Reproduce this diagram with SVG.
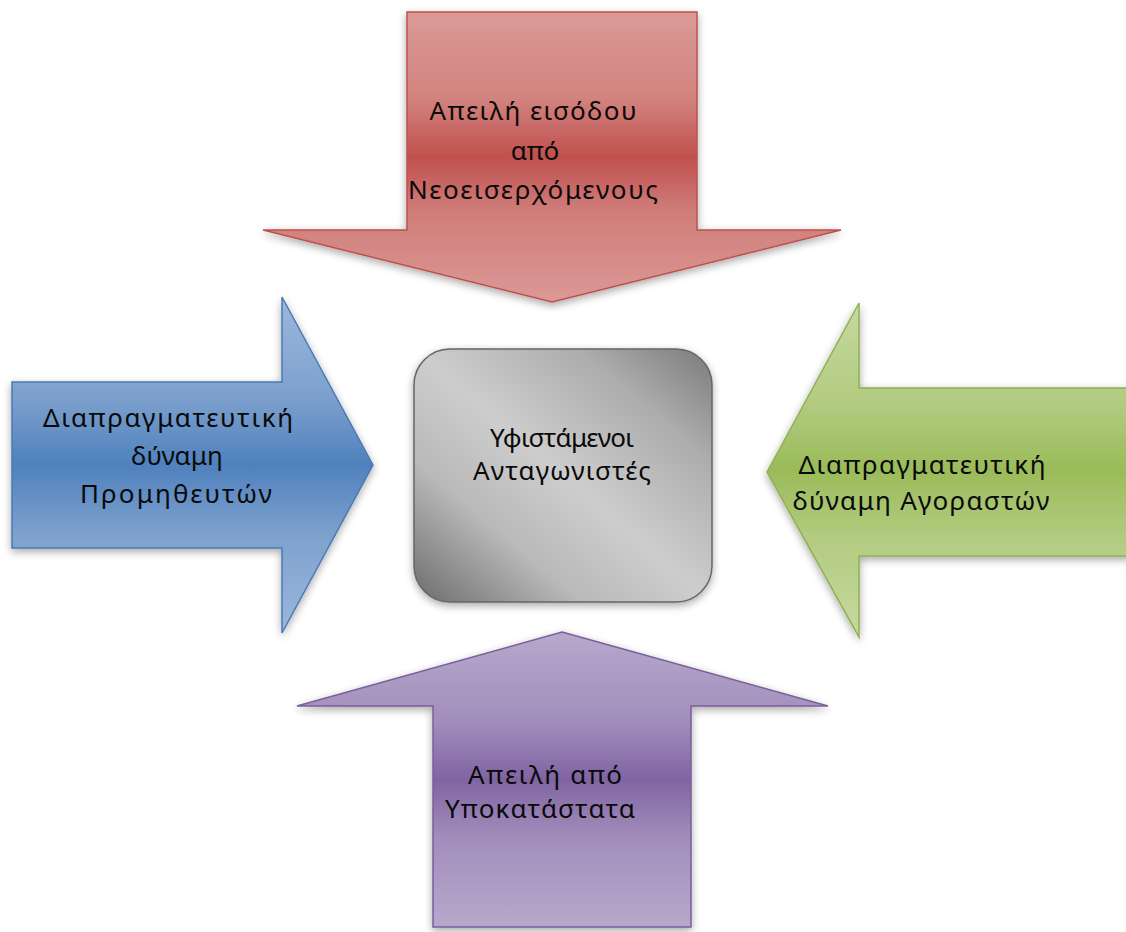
<svg xmlns="http://www.w3.org/2000/svg" width="1126" height="932" viewBox="0 0 1126 932">
  <defs>
    <!-- tube-style fills: light edges, saturated centre band -->
    <linearGradient id="gRed" x1="0" y1="0" x2="0" y2="1">
      <stop offset="0" stop-color="#db9a97"/>
      <stop offset="0.3" stop-color="#d2837f"/>
      <stop offset="0.5" stop-color="#c0504d"/>
      <stop offset="0.68" stop-color="#cf7c79"/>
      <stop offset="1" stop-color="#db9996"/>
    </linearGradient>
    <linearGradient id="gBlue" x1="0" y1="0" x2="0" y2="1">
      <stop offset="0" stop-color="#9bb8dc"/>
      <stop offset="0.3" stop-color="#7ca0cd"/>
      <stop offset="0.5" stop-color="#4f81bd"/>
      <stop offset="0.7" stop-color="#7ca0cd"/>
      <stop offset="1" stop-color="#9bb8dc"/>
    </linearGradient>
    <linearGradient id="gGreen" x1="0" y1="0" x2="0" y2="1">
      <stop offset="0" stop-color="#c6d9a0"/>
      <stop offset="0.3" stop-color="#b2cb80"/>
      <stop offset="0.5" stop-color="#9bbb59"/>
      <stop offset="0.7" stop-color="#b2cb80"/>
      <stop offset="1" stop-color="#c6d9a0"/>
    </linearGradient>
    <linearGradient id="gPurple" x1="0" y1="0" x2="0" y2="1">
      <stop offset="0" stop-color="#b7a8cb"/>
      <stop offset="0.3" stop-color="#a28ebc"/>
      <stop offset="0.5" stop-color="#8064a2"/>
      <stop offset="0.7" stop-color="#a28ebc"/>
      <stop offset="1" stop-color="#b7a8cb"/>
    </linearGradient>
    <linearGradient id="gGrey" x1="1" y1="0" x2="0" y2="1">
      <stop offset="0" stop-color="#7a7a7a"/>
      <stop offset="0.22" stop-color="#acacac"/>
      <stop offset="0.5" stop-color="#cdcdcd"/>
      <stop offset="0.72" stop-color="#b9b9b9"/>
      <stop offset="1" stop-color="#6c6c6c"/>
    </linearGradient>
    <filter id="shadow" x="-10%" y="-10%" width="120%" height="125%">
      <feGaussianBlur in="SourceAlpha" stdDeviation="4"/>
      <feOffset dy="3" result="b"/>
      <feComponentTransfer><feFuncA type="linear" slope="0.35"/></feComponentTransfer>
      <feMerge><feMergeNode/><feMergeNode in="SourceGraphic"/></feMerge>
    </filter>
  </defs>
  <style>
    .arrow { stroke-width: 1.5; stroke-linejoin: miter; filter: url(#shadow); }
    .lbl { font-family: "Noto Sans", "Open Sans", "DejaVu Sans", sans-serif; font-size: 26px; fill: #0a0a0a; text-anchor: middle; }
  </style>

  <!-- top: threat of new entrants -->
  <g id="new-entrants">
    <polygon class="arrow" fill="url(#gRed)" stroke="#c0504d"
             points="407,12 697,12 697,230 841,230 552,302 263,230 407,230"/>
    <text class="lbl" x="533" y="120" textLength="207" lengthAdjust="spacing">Απειλή εισόδου</text>
    <text class="lbl" x="535" y="160">από</text>
    <text class="lbl" x="533" y="199" textLength="250" lengthAdjust="spacing">Νεοεισερχόμενους</text>
  </g>

  <!-- left: supplier power -->
  <g id="suppliers">
    <polygon class="arrow" fill="url(#gBlue)" stroke="#4a7ab5"
             points="12,382 282,382 282,297 373,465 282,633 282,548 12,548"/>
    <text class="lbl" x="168" y="427" textLength="250" lengthAdjust="spacing">Διαπραγματευτική</text>
    <text class="lbl" x="177" y="465">δύναμη</text>
    <text class="lbl" x="176" y="503" textLength="192" lengthAdjust="spacing">Προμηθευτών</text>
  </g>

  <!-- right: buyer power -->
  <g id="buyers">
    <polygon class="arrow" fill="url(#gGreen)" stroke="#8fb050"
             points="767,472 859,303 859,388 1132,388 1132,556 859,556 859,637"/>
    <text class="lbl" x="922" y="474" textLength="247" lengthAdjust="spacing">Διαπραγματευτική</text>
    <text class="lbl" x="921" y="510" textLength="257" lengthAdjust="spacing">δύναμη Αγοραστών</text>
  </g>

  <!-- bottom: threat of substitutes -->
  <g id="substitutes">
    <polygon class="arrow" fill="url(#gPurple)" stroke="#7b5e9d"
             points="562,632 828,706 691,706 691,927 433,927 433,706 297,706"/>
    <text class="lbl" x="545" y="784" textLength="154" lengthAdjust="spacing">Απειλή από</text>
    <text class="lbl" x="540" y="818" textLength="190" lengthAdjust="spacing">Υποκατάστατα</text>
  </g>

  <!-- centre: existing competitors -->
  <g id="competitors">
    <rect x="414" y="349" width="298" height="253" rx="36" ry="36"
          fill="url(#gGrey)" stroke="#666666" stroke-width="1.5" filter="url(#shadow)"/>
    <text class="lbl" x="562" y="447" textLength="144" lengthAdjust="spacing">Υφιστάμενοι</text>
    <text class="lbl" x="562" y="480" textLength="178" lengthAdjust="spacing">Ανταγωνιστές</text>
  </g>

  <g id="connectors"/>
</svg>
